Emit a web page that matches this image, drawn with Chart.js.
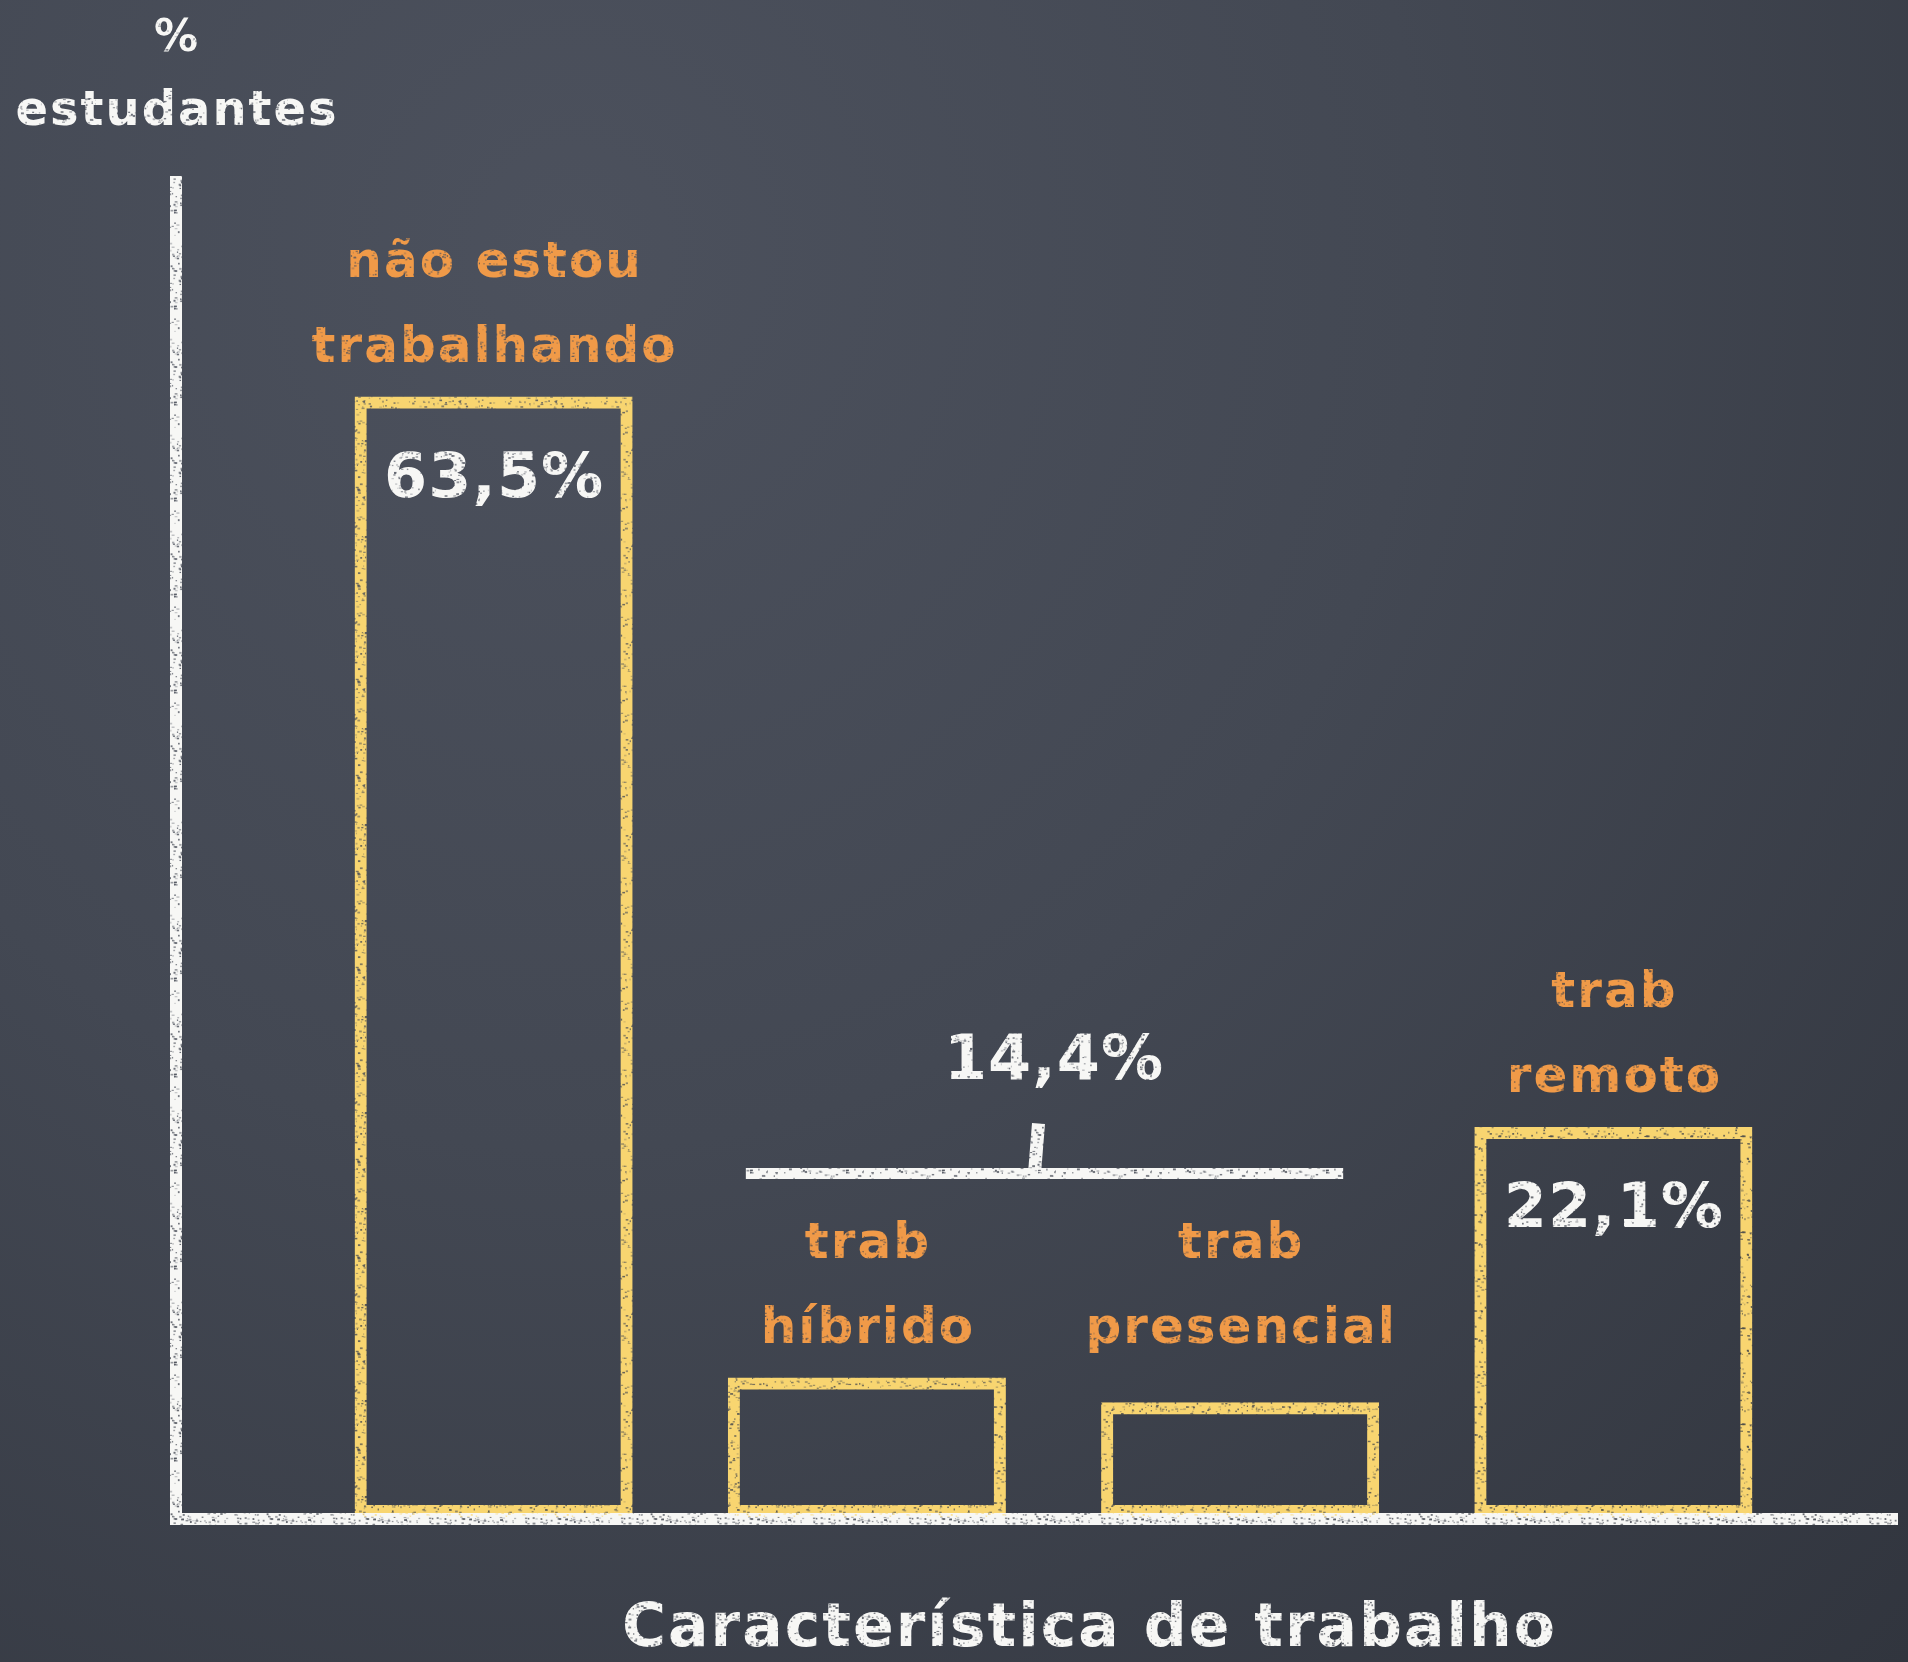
<!DOCTYPE html>
<html>
<head>
<meta charset="utf-8">
<title>Característica de trabalho</title>
<script src="https://cdn.jsdelivr.net/npm/chart.js@4.4.0/dist/chart.umd.min.js"></script>
<style>
  html, body { margin: 0; padding: 0; }
  body {
    width: 1908px; height: 1662px; overflow: hidden;
    background: radial-gradient(ellipse at 30% 15%, #4c515d 0%, #434853 45%, #31353e 100%);
  }
  canvas { display: block; }
</style>
</head>
<body>
<canvas id="chart" width="1908" height="1662"></canvas>
<script>
// categorias (duas linhas cada) e % de estudantes
const categories = [['não estou', 'trabalhando'], ['trab', 'híbrido'], ['trab', 'presencial'], ['trab', 'remoto']];
const values = [63.5, 7.9, 6.5, 22.1];
const groupedBars = [1, 2]; // híbrido + presencial aparecem somados (14,4%)
const yTitle = ['%', 'estudantes'];
const xTitle = 'Característica de trabalho';
const yMax = 76;

const FONT = '"DejaVu Sans", sans-serif';
const fmt = v => v.toFixed(1).replace('.', ',') + '%';

// textura de giz: padrão com pequenas falhas (pseudo-aleatório fixo)
function chalkPattern(color, seed) {
    const c = document.createElement('canvas');
    c.width = c.height = 96;
    const g = c.getContext('2d');
    g.fillStyle = color;
    g.fillRect(0, 0, 96, 96);
    let s = seed;
    const rnd = () => (s = (s * 16807) % 2147483647) / 2147483647;
    g.globalCompositeOperation = 'destination-out';
    for (let i = 0; i < 380; i++) {
        g.globalAlpha = 0.2 + rnd() * 0.6;
        g.fillRect(rnd() * 96, rnd() * 96, 1 + rnd() * 2, 1 + rnd());
    }
    return g.createPattern(c, 'repeat');
}

const ctx0 = document.getElementById('chart').getContext('2d');
const white = chalkPattern('#f7f7f5', 7);
const yellow = chalkPattern('#f8d570', 13);
const orange = chalkPattern('#f09a48', 29);

function text(ctx, str, x, y, size, style, spacing) {
    ctx.font = 'bold ' + size + 'px ' + FONT;
    ctx.fillStyle = style;
    ctx.letterSpacing = spacing + 'px';
    ctx.textAlign = 'center';
    ctx.textBaseline = 'middle';
    ctx.fillText(str, x + spacing / 2, y);
}

const chalkboard = {
    id: 'chalkboard',
    afterDatasetsDraw(chart) {
        const { ctx, chartArea: a, scales: { y } } = chart;
        const bars = chart.getDatasetMeta(0).data;
        const axisX = a.left - 131;
        const axisY = y.getPixelForValue(0) + 2;

        ctx.save();
        // eixos
        ctx.strokeStyle = white;
        ctx.lineWidth = 12;
        ctx.beginPath();
        ctx.moveTo(axisX, a.top);
        ctx.lineTo(axisX, axisY);
        ctx.moveTo(axisX - 6, axisY);
        ctx.lineTo(a.right + 98, axisY);
        ctx.stroke();

        // rótulos das categorias e valores
        const groupTop = Math.min(...groupedBars.map(i => bars[i].y));
        bars.forEach((bar, i) => {
            const grouped = groupedBars.includes(i);
            const top = grouped ? groupTop : bar.y;
            text(ctx, categories[i][0], bar.x, top - 133, 50, orange, 2);
            text(ctx, categories[i][1], bar.x, top - 48, 50, orange, 2);
            if (!grouped) text(ctx, fmt(values[i]), bar.x, bar.y + 84, 62, white, 1);
        });

        // chave do grupo híbrido + presencial
        const b1 = bars[groupedBars[0]], b2 = bars[groupedBars[groupedBars.length - 1]];
        const braceY = groupTop - 204;
        const midX = (b1.x + b2.x) / 2;
        ctx.lineWidth = 11;
        ctx.beginPath();
        ctx.moveTo(b1.x - b1.width / 2 + 18, braceY);
        ctx.lineTo(b2.x + b2.width / 2 - 36, braceY);
        ctx.stroke();
        ctx.lineWidth = 13;
        ctx.beginPath();
        ctx.moveTo(midX - 15, braceY - 50);
        ctx.lineTo(midX - 19, braceY);
        ctx.stroke();
        const groupSum = groupedBars.reduce((s, i) => s + values[i], 0);
        text(ctx, fmt(groupSum), midX, braceY - 111, 62, white, 1);

        // títulos dos eixos
        text(ctx, yTitle[0], axisX, a.top - 136, 44, white, 1);
        text(ctx, yTitle[1], axisX, a.top - 63, 48, white, 2);
        text(ctx, xTitle, a.left + a.width / 2 + 35, a.bottom + 113, 60, white, 2);
        ctx.restore();
    }
};

new Chart(ctx0, {
    type: 'bar',
    data: {
        labels: categories,
        datasets: [{
            data: values,
            backgroundColor: 'rgba(0,0,0,0)',
            borderColor: yellow,
            borderWidth: 12,
            borderSkipped: false,
            barPercentage: 0.745,
            categoryPercentage: 1
        }]
    },
    options: {
        responsive: false,
        devicePixelRatio: 1,
        animation: false,
        layout: { padding: { left: 307, right: 108, top: 176, bottom: 145 } },
        plugins: { legend: { display: false }, tooltip: { enabled: false } },
        scales: {
            x: { display: false },
            y: { display: false, min: 0, max: yMax }
        }
    },
    plugins: [chalkboard]
});
</script>
</body>
</html>
